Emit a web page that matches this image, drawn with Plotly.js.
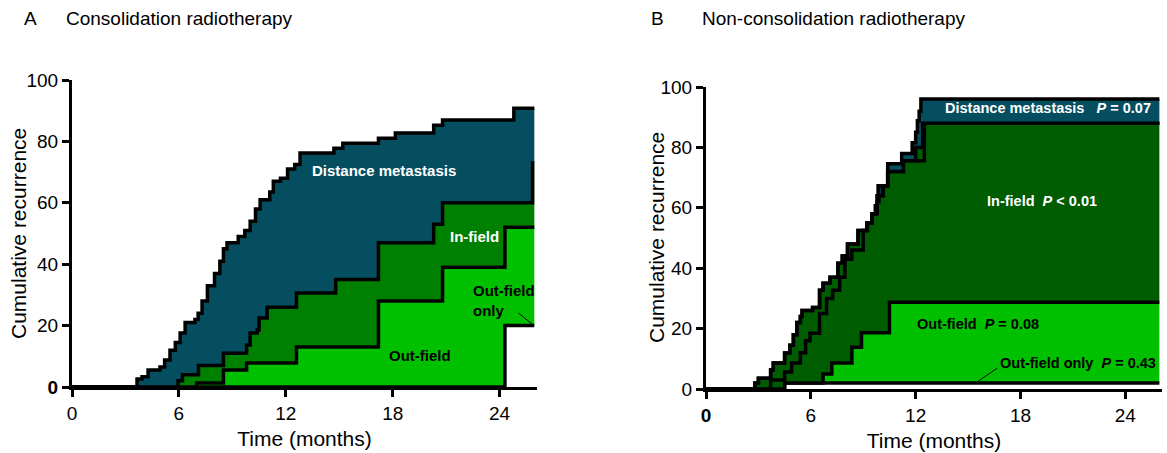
<!DOCTYPE html>
<html>
<head>
<meta charset="utf-8">
<script src="https://cdn.plot.ly/plotly-3.0.1.min.js"></script>
<style>html,body{margin:0;padding:0;background:#fff;}#chart{width:1167px;height:453px;}</style>
</head>
<body>
<div id="chart"></div>
<script>
// ---------- tick labels ----------
const monthTicks = [0, 6, 12, 18, 24];
const recurrenceTicks = [0, 20, 40, 60, 80, 100];

// ---------- Panel A: Consolidation radiotherapy ----------
const aOutOnlyX = [0, 24.3, 25.95];
const aOutOnlyY = [0, 20, 20];
const aOutFieldX = [0, 7.0, 8.5, 9.8, 12.6, 17.2, 20.8, 24.3, 25.95];
const aOutFieldY = [0, 1.3, 5.5, 7.8, 13, 28, 39, 52, 52];
const aInFieldX = [0, 5.95, 6.2, 7.1, 8.5, 9.8, 10.0, 10.4, 10.5, 10.95, 12.6, 14.8, 17.2, 20.3, 20.8, 25.85, 25.95];
const aInFieldY = [0, 2, 4, 7, 11, 13.7, 17.6, 18.6, 22.5, 26, 30.6, 35, 47, 53, 60, 73, 73];
const aDistX = [0, 3.65, 3.93, 4.27, 4.94, 5.2, 5.5, 5.8, 6.07, 6.35, 6.9, 7.08, 7.3, 7.6, 8.0, 8.3, 8.5, 8.7, 9.33, 9.7, 10.0, 10.3, 10.56, 11.1, 11.3, 11.7, 12.1, 12.5, 12.8, 14.7, 15.2, 17.2, 18.15, 20.3, 20.8, 24.8, 25.95];
const aDistY = [0, 2.6, 3.3, 5.5, 6.5, 8.8, 12, 14.5, 17.6, 21, 22, 24, 28, 33, 37, 41, 45, 47, 49, 51, 54, 58, 61, 63.5, 67, 68, 71, 72.5, 76.2, 77.8, 79.4, 81, 82.7, 85.3, 87, 90.8, 90.8];

// ---------- Panel B: Non-consolidation radiotherapy ----------
const bOutOnlyX = [0, 4.5, 25.95];
const bOutOnlyY = [0, 2, 2];
const bOutFieldX = [0, 4.5, 6.7, 7.2, 8.35, 8.9, 10.5, 25.95];
const bOutFieldY = [0, 2, 5, 8.6, 13.8, 18.6, 28.7, 28.7];
const bInFieldInnerX = [0, 3.7, 4.5, 4.9, 5.4, 5.7, 5.95, 6.5, 6.9, 7.25, 7.65, 7.95, 8.35, 9.0, 9.25, 9.5, 9.8, 9.9, 10.15, 10.4, 11.3, 12.5, 25.95];
const bInFieldInnerY = [0, 3, 5.6, 8.6, 12, 16, 18.5, 25, 30, 32.7, 37, 43, 46, 52.5, 55, 58, 62, 64, 67.3, 72, 75.6, 88, 88];
const bInFieldX = [0, 2.8, 3.0, 3.7, 3.85, 4.5, 4.8, 5.0, 5.2, 5.4, 5.5, 6.1, 6.5, 6.7, 7.1, 7.55, 7.8, 8.1, 8.7, 9.2, 9.5, 9.7, 9.8, 10.1, 10.4, 11.3, 12.0, 12.4, 25.95];
const bInFieldY = [0, 2, 3.6, 6.3, 8.6, 11.9, 14.5, 18, 22, 24, 26, 27, 32.7, 35, 37, 41.6, 44, 48, 52.5, 55, 58, 60.7, 64, 67.3, 72, 75.6, 80, 88, 88];
const bDistX = [0, 2.8, 3.0, 3.7, 3.85, 4.5, 4.8, 5.0, 5.2, 5.4, 5.5, 6.1, 6.5, 6.7, 7.1, 7.55, 7.8, 8.1, 8.7, 9.2, 9.5, 9.7, 9.8, 9.85, 10.4, 11.2, 11.8, 12.0, 12.1, 12.2, 12.3, 25.95];
const bDistY = [0, 2, 3.6, 6.3, 8.6, 11.9, 14.5, 18, 22, 24, 26, 27, 32.7, 35, 37, 41.6, 44, 48, 52.5, 55, 58, 60.7, 64, 67.3, 74.6, 78, 81.5, 85, 88.8, 92, 96, 96];

// ---------- colours ----------
const TEAL = '#054e60';
const GREEN_A = '#008000';
const GREEN_B = '#005c00';
const LIGHT = '#00c000';
const FONT = 'Arial, "Liberation Sans", sans-serif';

function stepTrace(x, y, fill, color, xa, ya) {
  return {
    x: x, y: y, type: 'scatter', mode: 'lines',
    line: {shape: 'hv', color: '#000', width: 3.5},
    fill: fill, fillcolor: color,
    xaxis: xa, yaxis: ya, hoverinfo: 'skip', showlegend: false
  };
}

const data = [
  stepTrace(aOutOnlyX, aOutOnlyY, 'tozeroy', '#ffffff', 'x', 'y'),
  stepTrace(aOutFieldX, aOutFieldY, 'tonexty', LIGHT, 'x', 'y'),
  stepTrace(aInFieldX, aInFieldY, 'tonexty', GREEN_A, 'x', 'y'),
  stepTrace(aDistX, aDistY, 'tonexty', TEAL, 'x', 'y'),
  stepTrace(bOutOnlyX, bOutOnlyY, 'tozeroy', '#ffffff', 'x2', 'y2'),
  stepTrace(bOutFieldX, bOutFieldY, 'tonexty', LIGHT, 'x2', 'y2'),
  stepTrace(bInFieldInnerX, bInFieldInnerY, 'tonexty', GREEN_B, 'x2', 'y2'),
  stepTrace(bInFieldX, bInFieldY, 'tonexty', GREEN_B, 'x2', 'y2'),
  stepTrace(bDistX, bDistY, 'tonexty', TEAL, 'x2', 'y2')
];

const W = 1167, H = 453;
function xaxisDef(d0, d1, anchor, boldZero) {
  return {
    domain: [d0 / W, d1 / W], range: [0, 26.1], anchor: anchor,
    tickvals: monthTicks,
    ticktext: monthTicks.map(v => (boldZero && v === 0) ? '<b>0</b>' : String(v)),
    ticks: 'outside', ticklen: 7, tickwidth: 3, tickcolor: '#000',
    showline: true, linewidth: 3, linecolor: '#000',
    showgrid: false, zeroline: false,
    tickfont: {family: FONT, size: 19, color: '#000'},
    title: {text: 'Time (months)', font: {family: FONT, size: 21, color: '#000'}, standoff: 9},
    fixedrange: true
  };
}
function yaxisDef(p0, p1, anchor, boldZero) {
  return {
    domain: [1 - p0 / H, 1 - p1 / H], range: [0, 100], anchor: anchor,
    tickvals: recurrenceTicks,
    ticktext: recurrenceTicks.map(v => (boldZero && v === 0) ? '<b>0</b>' : String(v)),
    ticks: 'outside', ticklen: 7, tickwidth: 3, tickcolor: '#000',
    showline: true, linewidth: 3, linecolor: '#000',
    showgrid: false, zeroline: false,
    tickfont: {family: FONT, size: 19, color: '#000'},
    fixedrange: true
  };
}

function ann(text, x, y, xref, yref, color, size, extra) {
  return Object.assign({
    text: text, x: x, y: y, xref: xref, yref: yref, showarrow: false,
    xanchor: 'center', yanchor: 'middle',
    font: {family: FONT, size: size, color: color}
  }, extra || {});
}

const annotations = [
  ann('A', 30 / W, 1 - 19 / H, 'paper', 'paper', '#000', 19),
  ann('Consolidation radiotherapy', 64 / W, 1 - 19 / H, 'paper', 'paper', '#000', 19, {xanchor: 'left'}),
  ann('B', 658 / W, 1 - 19 / H, 'paper', 'paper', '#000', 19),
  ann('Non-consolidation radiotherapy', 700 / W, 1 - 19 / H, 'paper', 'paper', '#000', 19, {xanchor: 'left'}),
  // y-axis titles
  ann('Cumulative recurrence', 18 / W, 1 - 234 / H, 'paper', 'paper', '#000', 21, {textangle: -90}),
  ann('Cumulative recurrence', 656 / W, 1 - 238 / H, 'paper', 'paper', '#000', 21, {textangle: -90}),
  // Panel A labels
  ann('<b>Distance metastasis</b>', 17.5, 70.4, 'x', 'y', '#fff', 15),
  ann('<b>In-field</b>', 22.6, 49, 'x', 'y', '#fff', 15),
  ann('<b>Out-field<br>only</b>', 22.4, 28.3, 'x', 'y', '#000', 15, {xanchor: 'left', align: 'left'}),
  ann('<b>Out-field</b>', 19.55, 10.4, 'x', 'y', '#000', 15),
  // Panel B labels
  ann('<b>Distance metastasis&nbsp;&nbsp;&nbsp;<i>P</i> = 0.07</b>', 19.6, 93, 'x2', 'y2', '#fff', 14.5),
  ann('<b>In-field&nbsp;&nbsp;<i>P</i> &lt; 0.01</b>', 19.25, 62.4, 'x2', 'y2', '#fff', 14.5),
  ann('<b>Out-field&nbsp;&nbsp;<i>P</i> = 0.08</b>', 15.55, 21.5, 'x2', 'y2', '#000', 14.5),
  ann('<b>Out-field only&nbsp;&nbsp;<i>P</i> = 0.43</b>', 21.27, 8.7, 'x2', 'y2', '#000', 14.5)
];

const shapes = [
  {type: 'line', xref: 'x', yref: 'y', x0: 25.06, y0: 24.1, x1: 25.84, y1: 20.4, line: {color: '#000', width: 1}},
  {type: 'line', xref: 'x2', yref: 'y2', x0: 16.67, y0: 6.9, x1: 15.58, y1: 2.6, line: {color: '#000', width: 1}}
];

const layout = {
  width: W, height: H,
  margin: {l: 0, r: 0, t: 0, b: 0},
  paper_bgcolor: '#fff', plot_bgcolor: 'rgba(0,0,0,0)',
  font: {family: FONT, color: '#000'},
  showlegend: false,
  xaxis: xaxisDef(72, 537, 'y', false),
  yaxis: yaxisDef(387, 80, 'x', true),
  xaxis2: xaxisDef(706, 1162, 'y2', true),
  yaxis2: yaxisDef(389, 87, 'x2', false),
  annotations: annotations,
  shapes: shapes
};

Plotly.newPlot('chart', data, layout, {staticPlot: true, displayModeBar: false});
</script>
</body>
</html>
